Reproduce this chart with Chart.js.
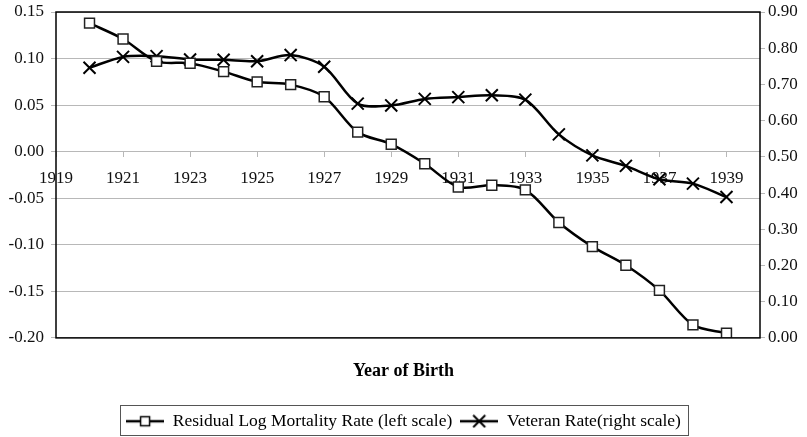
<!DOCTYPE html>
<html>
<head>
<meta charset="utf-8">
<script src="https://cdn.jsdelivr.net/npm/chart.js@4.4.1/dist/chart.umd.min.js"></script>
<style>
    html, body { margin: 0; padding: 0; background: #fff; }
    #wrap { width: 807px; height: 437px; }
</style>
</head>
<body>
<div id="wrap"><canvas id="myChart" width="807" height="437"></canvas></div>
<script>
// data
const years = [1920, 1921, 1922, 1923, 1924, 1925, 1926, 1927, 1928, 1929,
    1930, 1931, 1932, 1933, 1934, 1935, 1936, 1937, 1938, 1939];
const mortalityRate = [0.138, 0.121, 0.097, 0.095, 0.086, 0.075, 0.072, 0.059, 0.021, 0.008,
    -0.013, -0.038, -0.036, -0.041, -0.076, -0.102, -0.122, -0.149, -0.186, -0.195];
const veteranRate = [0.746, 0.776, 0.778, 0.769, 0.768, 0.764, 0.781, 0.749, 0.647, 0.642,
    0.660, 0.665, 0.670, 0.658, 0.562, 0.504, 0.475, 0.438, 0.426, 0.389];

// tick labels
const yearTicks = [1919, 1921, 1923, 1925, 1927, 1929, 1931, 1933, 1935, 1937, 1939];
const leftTicks = [-0.20, -0.15, -0.10, -0.05, 0.00, 0.05, 0.10, 0.15];
const rightTicks = [0.00, 0.10, 0.20, 0.30, 0.40, 0.50, 0.60, 0.70, 0.80, 0.90];

const seriesNames = ["Residual Log Mortality Rate (left scale)", "Veteran Rate(right scale)"];

const serif = "'Liberation Serif', 'DejaVu Serif', serif";
const gridGray = "#b8b8b8";

// legend icon: line with the marker in the middle
function makeIcon(kind) {
    const c = document.createElement("canvas");
    c.width = 38;
    c.height = 14;
    const ctx = c.getContext("2d");
    ctx.strokeStyle = "#000";
    ctx.lineWidth = 2.5;
    ctx.beginPath();
    ctx.moveTo(0, 7);
    ctx.lineTo(38, 7);
    ctx.stroke();
    if (kind == "rect") {
        ctx.fillStyle = "#fff";
        ctx.lineWidth = 1.5;
        ctx.fillRect(14.5, 2.5, 9, 9);
        ctx.strokeRect(14.5, 2.5, 9, 9);
    } else {
        ctx.lineWidth = 2;
        ctx.beginPath();
        ctx.moveTo(13, 1); ctx.lineTo(25, 13);
        ctx.moveTo(25, 1); ctx.lineTo(13, 13);
        ctx.stroke();
    }
    return c;
}
const icons = [makeIcon("rect"), makeIcon("cross")];

function setTicks(list) {
    return function (scale) {
        scale.ticks = list.map(v => ({ value: v }));
    };
}

// fixed axis widths and top room so the plot area sits where the original has it
function fitAxis(width) {
    return function (scale) {
        scale.width = width;
        scale.paddingTop = 12;
        scale.paddingBottom = 0;
    };
}

// black frame round plot area and box round legend
const frames = {
    id: "frames",
    afterDraw(chart) {
        const ctx = chart.ctx;
        const a = chart.chartArea;
        ctx.save();
        ctx.strokeStyle = "#000";
        ctx.lineWidth = 1.5;
        ctx.strokeRect(a.left, a.top, a.right - a.left, a.bottom - a.top);

        const boxes = chart.legend.legendHitBoxes;
        if (boxes && boxes.length) {
            const l = Math.round(Math.min(...boxes.map(b => b.left)) - 6) + 0.5;
            const r = Math.round(Math.max(...boxes.map(b => b.left + b.width)) + 7) + 0.5;
            const t = Math.round(boxes[0].top - 7.5) + 0.5;
            const b = Math.min(t + Math.round(boxes[0].height + 13), chart.height - 1.5);
            ctx.strokeStyle = "#555";
            ctx.lineWidth = 1;
            ctx.strokeRect(l, t, r - l, b - t);
        }
        ctx.restore();
    }
};

new Chart("myChart", {
    type: "line",
    data: {
        datasets: [
            {
                label: seriesNames[0],
                data: years.map((y, i) => ({ x: y, y: mortalityRate[i] })),
                yAxisID: "y",
                borderColor: "#000",
                borderWidth: 2.5,
                tension: 0.3,
                pointStyle: "rect",
                pointRadius: 7,
                pointBorderWidth: 1.5,
                pointBorderColor: "#222",
                pointBackgroundColor: "#fff"
            },
            {
                label: seriesNames[1],
                data: years.map((y, i) => ({ x: y, y: veteranRate[i] })),
                yAxisID: "y1",
                borderColor: "#000",
                borderWidth: 2.5,
                tension: 0.3,
                pointStyle: "crossRot",
                pointRadius: 8.5,
                pointBorderWidth: 2,
                pointBorderColor: "#000"
            }
        ]
    },
    options: {
        responsive: false,
        animation: false,
        devicePixelRatio: 1,
        layout: { padding: { top: 0, left: 0, right: 0, bottom: -3 } },
        scales: {
            x: {
                type: "linear",
                position: { y: 0 },
                min: 1919,
                max: 1940,
                afterBuildTicks: setTicks(yearTicks),
                grid: { drawOnChartArea: false, drawTicks: true, tickLength: 5, color: gridGray },
                border: { display: true, color: gridGray, width: 1 },
                ticks: {
                    color: "#111",
                    font: { family: serif, size: 17 },
                    padding: 12,
                    autoSkip: false,
                    maxRotation: 0,
                    callback: v => String(v)
                }
            },
            y: {
                position: "left",
                min: -0.2,
                max: 0.15,
                afterBuildTicks: setTicks(leftTicks),
                afterFit: fitAxis(56),
                grid: { color: gridGray, tickLength: 5 },
                border: { display: false },
                ticks: {
                    color: "#111",
                    font: { family: serif, size: 17 },
                    padding: 7,
                    callback: v => v.toFixed(2)
                }
            },
            y1: {
                position: "right",
                min: 0,
                max: 0.9,
                afterBuildTicks: setTicks(rightTicks),
                afterFit: fitAxis(47),
                grid: { drawOnChartArea: false, color: gridGray, tickLength: 5 },
                border: { display: false },
                ticks: {
                    color: "#111",
                    font: { family: serif, size: 17 },
                    padding: 3,
                    callback: v => v.toFixed(2)
                }
            }
        },
        plugins: {
            title: {
                display: true,
                text: "Year of Birth",
                position: "bottom",
                weight: 500,
                color: "#000",
                font: { family: serif, size: 18, weight: "bold" },
                padding: { top: 23, bottom: 22 }
            },
            legend: {
                position: "bottom",
                labels: {
                    color: "#111",
                    font: { family: serif, size: 17.5 },
                    padding: 8,
                    usePointStyle: true,
                    pointStyleWidth: 38,
                    generateLabels: chart => chart.data.datasets.map((ds, i) => ({
                        text: ds.label,
                        pointStyle: icons[i],
                        fillStyle: "#fff",
                        strokeStyle: "#000",
                        lineWidth: 0,
                        datasetIndex: i
                    }))
                }
            },
            tooltip: { enabled: false }
        }
    },
    plugins: [frames]
});
</script>
</body>
</html>
